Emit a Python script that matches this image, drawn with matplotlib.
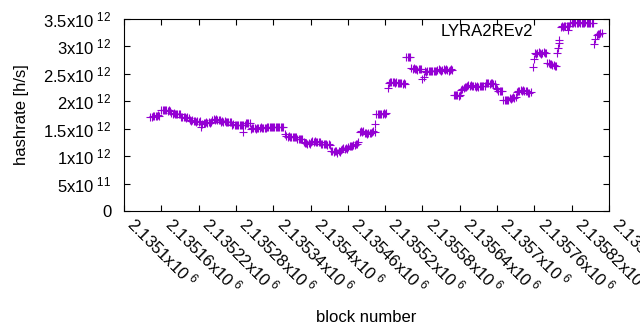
import matplotlib

matplotlib.use("Agg")
import matplotlib.pyplot as plt
import numpy as np


OUT_PATH = "out.png"
SERIES_NAME = "LYRA2REv2"
LINE_COLOR = "#9400d3"
FONT_SIZE = 12

# block numbers, as offsets from BLOCK_BASE
BLOCK_BASE = 2135100
BLOCK_OFFSETS = [
    42,
    45, 47, 49, 51, 53, 55, 57,
    60, 62, 64, 66, 68, 70, 72, 74,
    76, 78, 80, 82, 84, 86, 88, 90,
    92, 94, 96, 98, 100, 102, 104,
    106, 108, 110, 112, 114, 116, 118, 120, 122,
    124, 126,
    128, 130, 132, 134, 136, 138, 140,
    142, 144, 146, 148, 150, 152, 154,
    156, 158, 160, 162, 164, 166, 168, 170, 172,
    174, 176, 178, 180, 182, 184, 186, 188, 190, 192, 194,
    191,
    196, 198, 200, 202,
    204, 206, 208, 210, 212, 214, 216, 218, 220, 222, 224, 226, 228,
    230, 232, 234, 236, 238, 240, 242, 244, 246, 248, 250, 252, 254, 256,
    259,
    261, 263, 265, 267, 269, 271, 273, 275, 277,
    279, 281, 283, 285, 287,
    289, 291, 293, 295, 297, 299,
    301, 303, 305, 307, 309, 311, 313, 315,
    317, 319, 321, 323, 325, 327, 329, 331,
    333, 335, 337, 339, 341, 343, 345, 347,
    349, 351, 353, 355, 357, 359,
    361, 363, 365, 367, 369, 371, 373, 375,
    377,
    379, 381, 383, 385, 387, 389, 391, 393, 395, 397, 399, 401, 403,
    404,
    406, 408, 410, 412, 414, 416, 418, 420, 422,
    424,
    426, 428, 430, 432, 434, 436, 438,
    440, 442, 444, 446, 448, 450, 452,
    454, 456, 458, 460,
    462, 464, 466, 468, 470, 472, 474, 476, 478,
    480, 482,
    484, 486, 488, 490, 492, 494, 496, 498, 500, 502,
    504, 506, 508, 510, 512, 514, 516, 518, 520, 522, 524, 526, 528,
    530, 532, 534, 536, 538, 540,
    542, 544, 546, 548, 550,
    552, 554, 556, 558, 560, 562, 564, 566, 568, 570, 572, 574, 576, 578, 580,
    582, 584, 586, 588, 590, 592, 594, 596,
    598, 600,
    602, 604, 606, 608,
    610, 612, 614, 616, 618,
    620, 622, 624, 626, 628, 630,
    632,
    634, 636, 638, 640, 642, 644, 646, 648,
    650, 652, 654,
    657, 659,
    661, 663, 665, 667, 669, 671, 673, 675, 677, 679,
    681, 683, 685, 687, 689, 691, 693, 695,
    697, 698, 699, 700,
    702, 704, 706, 708, 710, 712, 714, 716,
    718, 720, 722, 724, 726, 728, 730, 732, 734, 736, 738, 740, 742, 744, 746, 748, 750, 752, 754,
    756, 758,
    760, 762, 764, 766, 768,
]

# hashrate in units of 10^12 h/s
HASHRATE_T = [
    1.71,
    1.72, 1.73, 1.74, 1.73, 1.74, 1.75, 1.74,
    1.84, 1.85, 1.84, 1.85, 1.84, 1.83, 1.84, 1.83,
    1.78, 1.77, 1.78, 1.77, 1.77, 1.76, 1.77, 1.76,
    1.72, 1.71, 1.72, 1.71, 1.70, 1.71, 1.70,
    1.65, 1.64, 1.65, 1.64, 1.64, 1.63, 1.64, 1.63, 1.64,
    1.53, 1.58,
    1.60, 1.61, 1.62, 1.61, 1.62, 1.61, 1.62,
    1.66, 1.67, 1.66, 1.67, 1.65, 1.66, 1.65,
    1.63, 1.64, 1.63, 1.64, 1.63, 1.62, 1.63, 1.62, 1.63,
    1.57, 1.58, 1.57, 1.56, 1.57, 1.57, 1.56, 1.57, 1.56, 1.57, 1.56,
    1.44,
    1.60, 1.61, 1.60, 1.61,
    1.50, 1.51, 1.52, 1.51, 1.50, 1.51, 1.52, 1.51, 1.53, 1.52, 1.51, 1.52, 1.51,
    1.53, 1.54, 1.53, 1.54, 1.53, 1.54, 1.53, 1.54, 1.53, 1.54, 1.53, 1.54, 1.53, 1.54,
    1.40,
    1.36, 1.35, 1.36, 1.35, 1.34, 1.35, 1.34, 1.35, 1.35,
    1.32, 1.31, 1.32, 1.31, 1.31,
    1.25, 1.24, 1.24, 1.23, 1.24, 1.23,
    1.26, 1.27, 1.26, 1.27, 1.26, 1.25, 1.26, 1.25,
    1.22, 1.23, 1.22, 1.23, 1.22, 1.21, 1.22, 1.21,
    1.10, 1.09, 1.08, 1.09, 1.10, 1.06, 1.09, 1.07,
    1.12, 1.13, 1.14, 1.13, 1.14, 1.13,
    1.17, 1.18, 1.19, 1.19, 1.20, 1.21, 1.22, 1.22,
    1.26,
    1.44, 1.45, 1.44, 1.45, 1.43, 1.42, 1.41, 1.42, 1.43, 1.42, 1.44, 1.45, 1.44,
    1.59,
    1.76, 1.77, 1.76, 1.77, 1.76, 1.77, 1.78, 1.77, 1.78,
    2.24,
    2.33, 2.35, 2.36, 2.35, 2.35, 2.34, 2.35,
    2.34, 2.33, 2.34, 2.33, 2.32, 2.33, 2.32,
    2.80, 2.81, 2.80, 2.81,
    2.60, 2.59, 2.60, 2.59, 2.58, 2.57, 2.58, 2.59, 2.59,
    2.41, 2.45,
    2.55, 2.54, 2.55, 2.56, 2.55, 2.55, 2.56, 2.55, 2.56, 2.56,
    2.57, 2.58, 2.57, 2.56, 2.57, 2.58, 2.57, 2.58, 2.57, 2.56, 2.57, 2.58, 2.57,
    2.11, 2.12, 2.11, 2.12, 2.10, 2.11,
    2.21, 2.23, 2.25, 2.26, 2.26,
    2.28, 2.29, 2.28, 2.29, 2.28, 2.27, 2.28, 2.26, 2.27, 2.26, 2.27, 2.28, 2.27, 2.28, 2.28,
    2.33, 2.34, 2.33, 2.32, 2.34, 2.33, 2.31, 2.32,
    2.24, 2.22,
    2.19, 2.18, 2.19, 2.18,
    2.02, 2.03, 2.02, 2.03, 2.02,
    2.06, 2.05, 2.06, 2.07, 2.06, 2.07,
    2.17,
    2.18, 2.19, 2.20, 2.19, 2.20, 2.19, 2.18, 2.19,
    2.15, 2.16, 2.17,
    2.63, 2.77,
    2.88, 2.87, 2.88, 2.89, 2.88, 2.87, 2.88, 2.89, 2.88, 2.88,
    2.70, 2.69, 2.68, 2.68, 2.67, 2.66, 2.65, 2.64,
    2.88, 2.97, 3.06, 3.12,
    3.36, 3.37, 3.36, 3.37, 3.38, 3.37, 3.38, 3.37,
    3.43, 3.42, 3.43, 3.44, 3.43, 3.42, 3.43, 3.44, 3.43, 3.43, 3.42, 3.43, 3.44, 3.43, 3.42, 3.43, 3.43, 3.42, 3.43,
    3.05, 3.14,
    3.20, 3.22, 3.23, 3.24, 3.25,
]

X_TICKS = [2135100, 2135160, 2135220, 2135280, 2135340, 2135400, 2135460,
           2135520, 2135580, 2135640, 2135700, 2135760, 2135820, 2135880]
X_TICK_LABELS = ["2.1351", "2.13516", "2.13522", "2.13528", "2.13534", "2.1354",
                 "2.13546", "2.13552", "2.13558", "2.13564", "2.1357", "2.13576",
                 "2.13582", "2.13588"]
Y_TICKS = [0, 0.5e12, 1e12, 1.5e12, 2e12, 2.5e12, 3e12, 3.5e12]
Y_TICK_LABELS = ["0", "5x10$^{\\ 11}$", "1x10$^{\\ 12}$", "1.5x10$^{\\ 12}$",
                 "2x10$^{\\ 12}$", "2.5x10$^{\\ 12}$", "3x10$^{\\ 12}$", "3.5x10$^{\\ 12}$"]


def setup_style():
    plt.rcParams["font.family"] = ["Liberation Sans", "DejaVu Sans"]
    plt.rcParams["mathtext.default"] = "regular"
    plt.rcParams["font.size"] = FONT_SIZE
    plt.rcParams["axes.linewidth"] = 0.8


def main():
    setup_style()
    fig = plt.figure(figsize=(6.4, 3.3), dpi=100)
    ax = fig.add_axes([124 / 640, 1 - 211 / 330, 485 / 640, 192 / 330])

    blocks = BLOCK_BASE + np.array(BLOCK_OFFSETS)
    hashrate = np.array(HASHRATE_T) * 1e12
    ax.plot(blocks, hashrate, linestyle="none", marker="+", markersize=5.5,
            markeredgewidth=0.8, color=LINE_COLOR, label=SERIES_NAME)

    ax.set_xlim(X_TICKS[0], X_TICKS[-1])
    ax.set_ylim(Y_TICKS[0], Y_TICKS[-1])

    ax.set_yticks(Y_TICKS)
    ax.set_yticklabels(Y_TICK_LABELS)
    ax.set_xticks(X_TICKS)
    ax.set_xticklabels([lab + "x10$^{\\ 6}$" for lab in X_TICK_LABELS],
                       rotation=-45, ha="left", va="bottom", rotation_mode="anchor")

    ax.tick_params(direction="in", length=4, width=0.8, top=True, right=True,
                   labelsize=FONT_SIZE)
    ax.tick_params(axis="y", pad=9)
    ax.tick_params(axis="x", pad=12)

    ax.set_xlabel("block number", fontsize=FONT_SIZE, labelpad=9)
    ax.set_ylabel("hashrate [h/s]", fontsize=FONT_SIZE, labelpad=10)

    ax.legend(loc="upper right", bbox_to_anchor=(0.974, 0.99), frameon=False,
              markerfirst=False, fontsize=FONT_SIZE, numpoints=1,
              handlelength=3.0, borderpad=0.2, borderaxespad=0.0, handletextpad=0.6)

    fig.savefig(OUT_PATH, dpi=100)
    plt.close(fig)


if __name__ == "__main__":
    main()
